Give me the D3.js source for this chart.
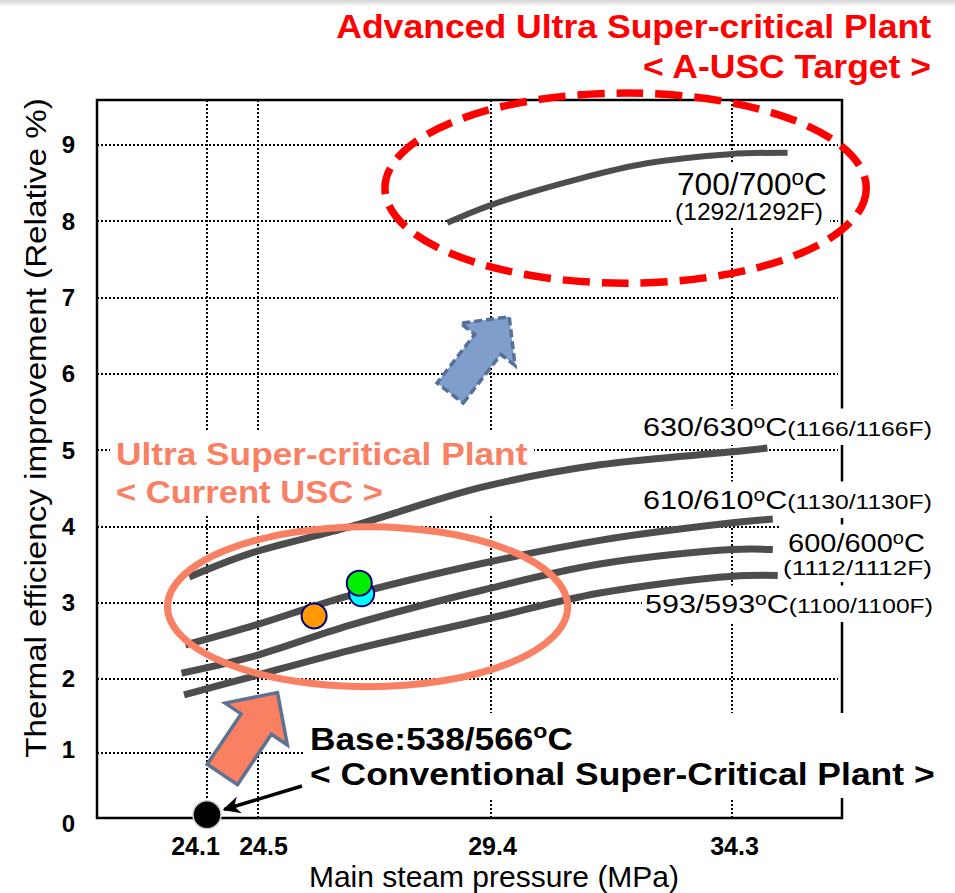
<!DOCTYPE html>
<html><head><meta charset="utf-8">
<script src="https://cdn.jsdelivr.net/npm/d3@7"></script>
<style>
body{margin:0;background:#fff}
svg{display:block;font-family:"Liberation Sans",Arial,Helvetica,sans-serif}
</style>
</head><body>
<svg id="chart" width="955" height="893"></svg>
<script>
// ---------------- data ----------------
const xTickValues = [24.1, 24.5, 29.4, 34.3];
const yTickValues = [0, 1, 2, 3, 4, 5, 6, 7, 8, 9];

const pressure700 = [28.48, 29.38, 31.21, 32.57, 34.25, 35.43];
const eff700      = [7.98, 8.21, 8.56, 8.76, 8.88, 8.90];

const pressure630 = [23.96, 24.44, 26.44, 29.23, 31.61, 34.31, 35.02];
const eff630      = [3.34, 3.65, 4.00, 4.52, 4.81, 4.98, 5.03];

const pressure610 = [23.93, 24.44, 26.44, 29.23, 31.61, 34.31, 35.13];
const eff610      = [2.45, 2.69, 3.10, 3.52, 3.82, 4.05, 4.10];

const pressure600 = [23.90, 24.44, 26.44, 29.23, 31.61, 34.31, 35.13];
const eff600      = [2.08, 2.29, 2.71, 3.17, 3.51, 3.70, 3.70];

const pressure593 = [23.92, 24.44, 26.44, 29.23, 31.61, 34.31, 35.23];
const eff593      = [1.79, 2.03, 2.38, 2.78, 3.13, 3.35, 3.36];

const plantPressure = [25.68, 26.68, 26.63];
const plantEff      = [2.83, 3.12, 3.26];

const basePressure = 24.1;
const baseEff = 0.05;

// annotation anchors (data units)
const uscRegionP = [23.79, 30.96];   // pressure extent of current USC ellipse
const uscRegionE = [1.90, 4.00];
const auscRegionP = [27.17, 37.03];  // pressure extent of A-USC ellipse
const auscRegionE = [7.19, 9.68];
const arrowUscP = [24.22, 24.91], arrowUscE = [0.67, 1.82];
const arrowAuscP = [28.54, 29.77], arrowAuscE = [5.75, 6.75];

// ---------------- setup ----------------
const svg = d3.select("#chart");
const L = 97, R = 842, T = 100, B = 818;

const x = d3.scaleLinear().domain(xTickValues).range([207, 258, 491, 732]);
const y = d3.scaleLinear().domain([0, 1, 2, 9]).range([818, 753, 679.3, 145]);

// top shadow
const defs = svg.append("defs");
const grad = defs.append("linearGradient").attr("id","topShade").attr("x1",0).attr("y1",0).attr("x2",0).attr("y2",1);
grad.append("stop").attr("offset","0%").attr("stop-color","#d4d4d4");
grad.append("stop").attr("offset","100%").attr("stop-color","#ffffff");
svg.append("rect").attr("x",0).attr("y",0).attr("width",955).attr("height",7).attr("fill","url(#topShade)");

const gridLayer = svg.append("g").attr("shape-rendering", "crispEdges");
const frameLayer = svg.append("g");
const boxLayer = svg.append("g");
const markLayer = svg.append("g");
const textLayer = svg.append("g");

// gridlines
gridLayer.selectAll("line.h").data(yTickValues.filter(v => v > 0)).join("line")
  .attr("x1", L).attr("x2", R - 4).attr("y1", d => Math.round(y(d))).attr("y2", d => Math.round(y(d)))
  .attr("stroke", "#000").attr("stroke-width", 2.6).attr("stroke-dasharray", "2,2");
gridLayer.selectAll("line.v").data(xTickValues).join("line")
  .attr("x1", d => Math.round(x(d))).attr("x2", d => Math.round(x(d))).attr("y1", T).attr("y2", B)
  .attr("stroke", "#000").attr("stroke-width", 2.6).attr("stroke-dasharray", "2,2");

// frame
frameLayer.append("rect").attr("x", L).attr("y", T).attr("width", R - L).attr("height", B - T)
  .attr("fill", "none").attr("stroke", "#000").attr("stroke-width", 2.5);

// axes (labels only)
const xLabelShift = { "24.1": -12, "24.5": 5, "29.4": 1, "34.3": 2 };
const xAxis = svg.append("g").attr("transform", `translate(0,${B})`)
  .call(d3.axisBottom(x).tickValues(xTickValues).tickSize(0).tickPadding(19).tickFormat(d3.format(".1f")));
xAxis.select(".domain").remove();
xAxis.selectAll("text").attr("font-size", 25).attr("font-weight", "bold").attr("fill", "#000")
  .attr("font-family", '"Liberation Sans",Arial,sans-serif')
  .attr("dx", d => xLabelShift[d3.format(".1f")(d)] || 0);

const yAxis = svg.append("g").attr("transform", `translate(${L},0)`)
  .call(d3.axisLeft(y).tickValues(yTickValues).tickSize(0).tickPadding(22).tickFormat(d3.format("d")));
yAxis.select(".domain").remove();
yAxis.selectAll("text").attr("font-size", 24).attr("font-weight", "bold").attr("fill", "#000")
  .attr("font-family", '"Liberation Sans",Arial,sans-serif')
  .attr("dy", d => d === 0 ? "0.55em" : (d === 1 ? "0.2em" : "0.32em"));

// axis titles
textLayer.append("text").attr("x", 494).attr("y", 887).attr("text-anchor", "middle")
  .attr("font-size", 30).text("Main steam pressure (MPa)");
const yTitle = textLayer.append("g").attr("transform", "translate(46,428) rotate(-90)");
const yTitleText = yTitle.append("text").attr("text-anchor", "middle").attr("font-size", 30)
  .text("Thermal efficiency improvement (Relative %)");
{
  const w = yTitleText.node().getComputedTextLength();
  yTitleText.attr("transform", `scale(${660 / w},1)`);
}

// ---------------- rich text helper ----------------
function richText(x0, y0, parts, opts) {
  const g = textLayer.append("g");
  const t = g.append("text").attr("text-anchor", opts.anchor || "start")
    .attr("fill", opts.fill || "#000").attr("font-weight", opts.weight || "normal");
  parts.forEach(p => {
    const ts = t.append("tspan").text(p.t).attr("font-size", p.size);
    if (p.dy) ts.attr("dy", p.dy);
  });
  const bb = t.node().getBBox();
  const sx = opts.width ? opts.width / bb.width : 1;
  g.attr("transform", `translate(${x0},${y0}) scale(${sx},1)`);
  return { x: x0 + bb.x * sx, y: y0 + bb.y, w: bb.width * sx, h: bb.height };
}
function whiteBox(list, pad) {
  const x0 = d3.min(list, b => b.x) - pad, y0 = d3.min(list, b => b.y) - pad;
  const x1 = d3.max(list, b => b.x + b.w) + pad, y1 = d3.max(list, b => b.y + b.h) + pad;
  boxLayer.append("rect").attr("x", x0).attr("y", y0).attr("width", x1 - x0).attr("height", y1 - y0).attr("fill", "#fff");
}

// ---------------- curves ----------------
const line = d3.line().x(d => x(d[0])).y(d => y(d[1])).curve(d3.curveCatmullRom.alpha(0.5));
const series = [
  [pressure700, eff700, 6],
  [pressure630, eff630, 7],
  [pressure610, eff610, 7],
  [pressure600, eff600, 7],
  [pressure593, eff593, 7]
];
series.forEach(([px, ey, w]) => {
  markLayer.append("path").attr("d", line(px.map((p, i) => [p, ey[i]])))
    .attr("fill", "none").attr("stroke", "#4d4d4d").attr("stroke-width", w).attr("stroke-linecap", "butt");
});

// ellipses
function ellipseFrom(pr, er) {
  const x0 = x(pr[0]), x1 = x(pr[1]), y0 = y(er[1]), y1 = y(er[0]);
  return { cx: (x0 + x1) / 2, cy: (y0 + y1) / 2, rx: (x1 - x0) / 2, ry: (y1 - y0) / 2 };
}
const eUsc = ellipseFrom(uscRegionP, uscRegionE);
markLayer.append("ellipse").attr("cx", eUsc.cx).attr("cy", eUsc.cy).attr("rx", eUsc.rx).attr("ry", eUsc.ry)
  .attr("fill", "none").attr("stroke", "#fa8064").attr("stroke-width", 7);
const eA = ellipseFrom(auscRegionP, auscRegionE);
markLayer.append("ellipse").attr("cx", eA.cx).attr("cy", eA.cy).attr("rx", eA.rx).attr("ry", eA.ry)
  .attr("fill", "none").attr("stroke", "#ff0000").attr("stroke-width", 7.5).attr("stroke-dasharray", "27,12");

// block arrows
function blockArrow(pr, er, shaft, head, headLen) {
  const tx = x(pr[0]), ty = y(er[0]), hx = x(pr[1]), hy = y(er[1]);
  const len = Math.hypot(hx - tx, hy - ty);
  const ux = (hx - tx) / len, uy = (hy - ty) / len;
  const nx = -uy, ny = ux;
  const bx = hx - ux * headLen, by = hy - uy * headLen;
  const s = shaft / 2, h = head / 2;
  return [
    [tx + nx * s, ty + ny * s], [bx + nx * s, by + ny * s], [bx + nx * h, by + ny * h],
    [hx, hy],
    [bx - nx * h, by - ny * h], [bx - nx * s, by - ny * s], [tx - nx * s, ty - ny * s]
  ];
}
markLayer.append("polygon")
  .attr("points", blockArrow(arrowAuscP, arrowAuscE, 33, 69, 35).map(p => p.join(",")).join(" "))
  .attr("fill", "#809ecb").attr("stroke", "#56709a").attr("stroke-width", 3.5)
  .attr("stroke-dasharray", "8,4").attr("stroke-linejoin", "miter");
markLayer.append("polygon")
  .attr("points", blockArrow(arrowUscP, arrowUscE, 36.5, 75, 38).map(p => p.join(",")).join(" "))
  .attr("fill", "#fa8064").attr("stroke", "#5e7190").attr("stroke-width", 3.5).attr("stroke-linejoin", "miter");

// plant points
const plantFill = ["#ff9900", "#00ffff", "#00ee00"];
markLayer.selectAll("circle.plant").data(plantPressure).join("circle")
  .attr("cx", (d) => x(d)).attr("cy", (d, i) => y(plantEff[i])).attr("r", 12.5)
  .attr("fill", (d, i) => plantFill[i]).attr("stroke", "#000080").attr("stroke-width", 2);

// base point
markLayer.append("circle").attr("cx", x(basePressure)).attr("cy", y(baseEff)).attr("r", 14)
  .attr("fill", "#000").attr("stroke", "#cfcfcf").attr("stroke-width", 1.5);

// pointer arrow to base
defs.append("marker").attr("id", "ah").attr("viewBox", "0 0 10 10").attr("refX", 9).attr("refY", 5)
  .attr("markerWidth", 5).attr("markerHeight", 5).attr("orient", "auto")
  .append("path").attr("d", "M0,0 L10,5 L0,10 L3,5 Z").attr("fill", "#000");
{
  const bx = x(basePressure), by = y(baseEff);
  const sx = 302, sy = 786;
  const d = Math.hypot(sx - bx, sy - by);
  const ex = bx + (sx - bx) / d * 18, ey = by + (sy - by) / d * 18;
  markLayer.append("line").attr("x1", sx).attr("y1", sy).attr("x2", ex).attr("y2", ey)
    .attr("stroke", "#000").attr("stroke-width", 3.5).attr("marker-end", "url(#ah)");
}

// ---------------- text annotations ----------------
// title
richText(931, 38, [{ t: "Advanced Ultra Super-critical Plant", size: 33 }], { anchor: "end", fill: "#ff0000", weight: "bold", width: 595 });
richText(931, 78, [{ t: "< A-USC Target >", size: 33 }], { anchor: "end", fill: "#ff0000", weight: "bold", width: 288 });

// current USC
{
  const a = richText(116, 465, [{ t: "Ultra Super-critical Plant", size: 32 }], { fill: "#fa8064", weight: "bold", width: 412 });
  const b = richText(116, 503, [{ t: "< Current USC >", size: 32 }], { fill: "#fa8064", weight: "bold", width: 267 });
  whiteBox([a, b], 6);
}

// base
{
  const a = richText(310, 750, [{ t: "Base:538/566", size: 32 }, { t: "o", size: 21, dy: -12 }, { t: "C", size: 32, dy: 12 }],
    { weight: "bold", width: 263 });
  const b = richText(310, 785, [{ t: "< Conventional Super-Critical Plant >", size: 32 }], { weight: "bold", width: 625 });
  whiteBox([a, b], 6);
}

// series labels
function tempLabel(x0, y0, main, fahr, width) {
  return richText(x0, y0, [
    { t: main, size: 26 }, { t: "o", size: 18, dy: -8.5 }, { t: "C", size: 26, dy: 8.5 },
    { t: fahr, size: 21 }
  ], { width: width });
}
whiteBox([tempLabel(643, 436, "630/630", "(1166/1166F)", 289)], 3);
whiteBox([tempLabel(643, 509, "610/610", "(1130/1130F)", 289)], 3);
whiteBox([tempLabel(645, 613, "593/593", "(1100/1100F)", 288)], 3);
{
  const a = richText(788, 552, [{ t: "600/600", size: 26 }, { t: "o", size: 18, dy: -8.5 }, { t: "C", size: 26, dy: 8.5 }], { width: 137 });
  const b = richText(783, 575, [{ t: "(1112/1112F)", size: 21 }], { width: 149 });
  whiteBox([a, b], 3);
}
{
  const a = richText(677, 195, [{ t: "700/700", size: 31 }, { t: "o", size: 22, dy: -10 }, { t: "C", size: 31, dy: 10 }], { width: 150 });
  const b = richText(675, 220, [{ t: "(1292/1292F)", size: 23 }], { width: 148 });
  whiteBox([a, b], 3);
}
</script>
</body></html>
